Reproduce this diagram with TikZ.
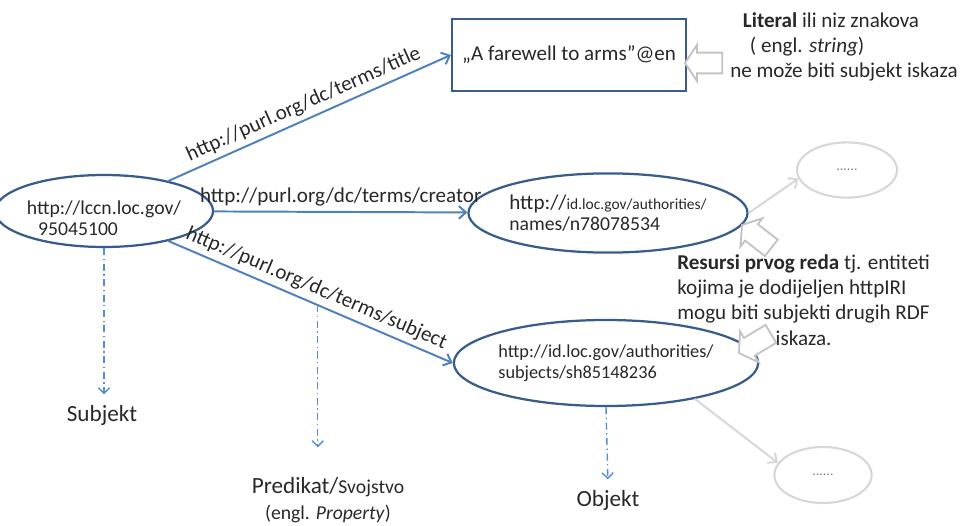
\documentclass[tikz,border=0pt]{standalone}
\usepackage{fontspec}
\setmainfont{Carlito}
\usetikzlibrary{arrows.meta,shapes.geometric}
\definecolor{rdfblue}{RGB}{56,93,138}
\definecolor{linkblue}{RGB}{79,129,189}
\definecolor{dashblue}{RGB}{85,142,213}
\definecolor{faintgray}{RGB}{215,215,215}
\definecolor{calloutgray}{RGB}{195,195,195}
\definecolor{inkgray}{RGB}{40,40,40}

\begin{document}
\begin{tikzpicture}[font=\fontsize{15}{18}\selectfont, text=inkgray,
  uri/.style={ellipse, draw=rdfblue, line width=1.6pt, inner sep=0pt, align=left},
  more/.style={ellipse, draw=faintgray, line width=1.5pt, text=gray, font=\fontsize{10}{12}\selectfont},
  link/.style={draw=linkblue, line width=1.4pt, -{Straight Barb[length=5pt,width=9pt]}},
  fade/.style={draw=faintgray, line width=1.4pt, -{Straight Barb[length=5pt,width=9pt]}},
  role/.style={draw=dashblue, line width=1pt, dash pattern=on 5pt off 2.5pt on 1pt off 2.5pt, shorten >=4pt, -{Straight Barb[length=4pt,width=8pt]}},
  bigword/.style={font=\fontsize{16.5}{18}\selectfont},
  hollowarrow/.pic={\draw[calloutgray, line width=1.3pt, fill=white] (0,0) -- (0.3,0.45) -- (0.3,0.26) -- (0.93,0.26) -- (0.93,-0.26) -- (0.3,-0.26) -- (0.3,-0.45) -- cycle;}]
  \useasboundingbox (0,0) rectangle (24.05,13.125);
  \node[uri, minimum width=4.63cm, minimum height=1.8cm, font=\fontsize{14}{15}\selectfont] (S) at (2.6,7.85) {\rule{0pt}{20pt}http://lccn.loc.gov/\\\hspace*{8pt}95045100};
  \node[draw=rdfblue, line width=1.6pt, minimum width=5.85cm, minimum height=1.8cm] (L) at (14.225,11.75) {„A farewell to arms”@en};
  \node[uri, minimum width=5.58cm, minimum height=1.98cm, font=\fontsize{14}{15}\selectfont] (N) at (15.2,7.8) {{\fontsize{15}{15}\selectfont http://}{\fontsize{11}{15}\selectfont id.loc.gov/authorities/}\\names/n78078534};
  \node[uri, minimum width=6.35cm, minimum height=2.15cm, font=\fontsize{13}{15}\selectfont] (T) at (15.15,4.05) {http://id.loc.gov/authorities/\\subjects/sh85148236};
  \node[more, minimum width=2.5cm, minimum height=1.38cm] (E1) at (21.175,8.875) {......};
  \node[more, minimum width=2.43cm, minimum height=1.4cm] (E2) at (20.575,1.25) {......};
  \node[bigword] (sub) at (2.55,2.75) {Subjekt};
  \node[bigword, align=center] (pre) at (8.2,0.625) {Predikat/{\fontsize{14}{18}\selectfont Svojstvo}\\{\fontsize{14}{18}\selectfont(engl. \textit{Property})}};
  \node[bigword] (obj) at (15.2,0.625) {Objekt};
  \node[anchor=west, inner sep=0pt, align=left] (litnote) at (18.25,11.95) {\hspace*{9pt}\textbf{Literal} ili niz znakova\\\hspace*{14pt}( engl. \textit{string})\\ne može biti subjekt iskaza};
  \node[anchor=west, inner sep=0pt, align=left] (resnote) at (16.925,5.625) {\textbf{Resursi prvog reda} tj. entiteti\\kojima je dodijeljen httpIRI\\mogu biti subjekti drugih RDF\\\hspace*{70pt}iskaza.};
  \pic at (17.125,11.55) {hollowarrow};
  \pic[rotate=-38] at (18.55,7.5) {hollowarrow};
  \pic[rotate=31] at (18.475,4.3) {hollowarrow};
  \draw[link] (S.25) -- (L.west) node[midway, above, sloped] {http://purl.org/dc/terms/title};
  \draw[link] (S) -- (N) node[midway, above] {http://purl.org/dc/terms/creator};
  \draw[link] (S.-25) -- (T.west) node[midway, above, sloped] {http://purl.org/dc/terms/subject} coordinate[pos=0.525] (P);
  \draw[fade] (N.east) -- (E1.190);
  \draw[fade] (T.-22) -- (E2.165);
  \draw[role] (S.south) -- (S.south |- sub.north);
  \draw[role, shorten >=18pt] (P) -- (P |- pre.north);
  \draw[role] (T.south) -- (obj.north);
\end{tikzpicture}
\end{document}
